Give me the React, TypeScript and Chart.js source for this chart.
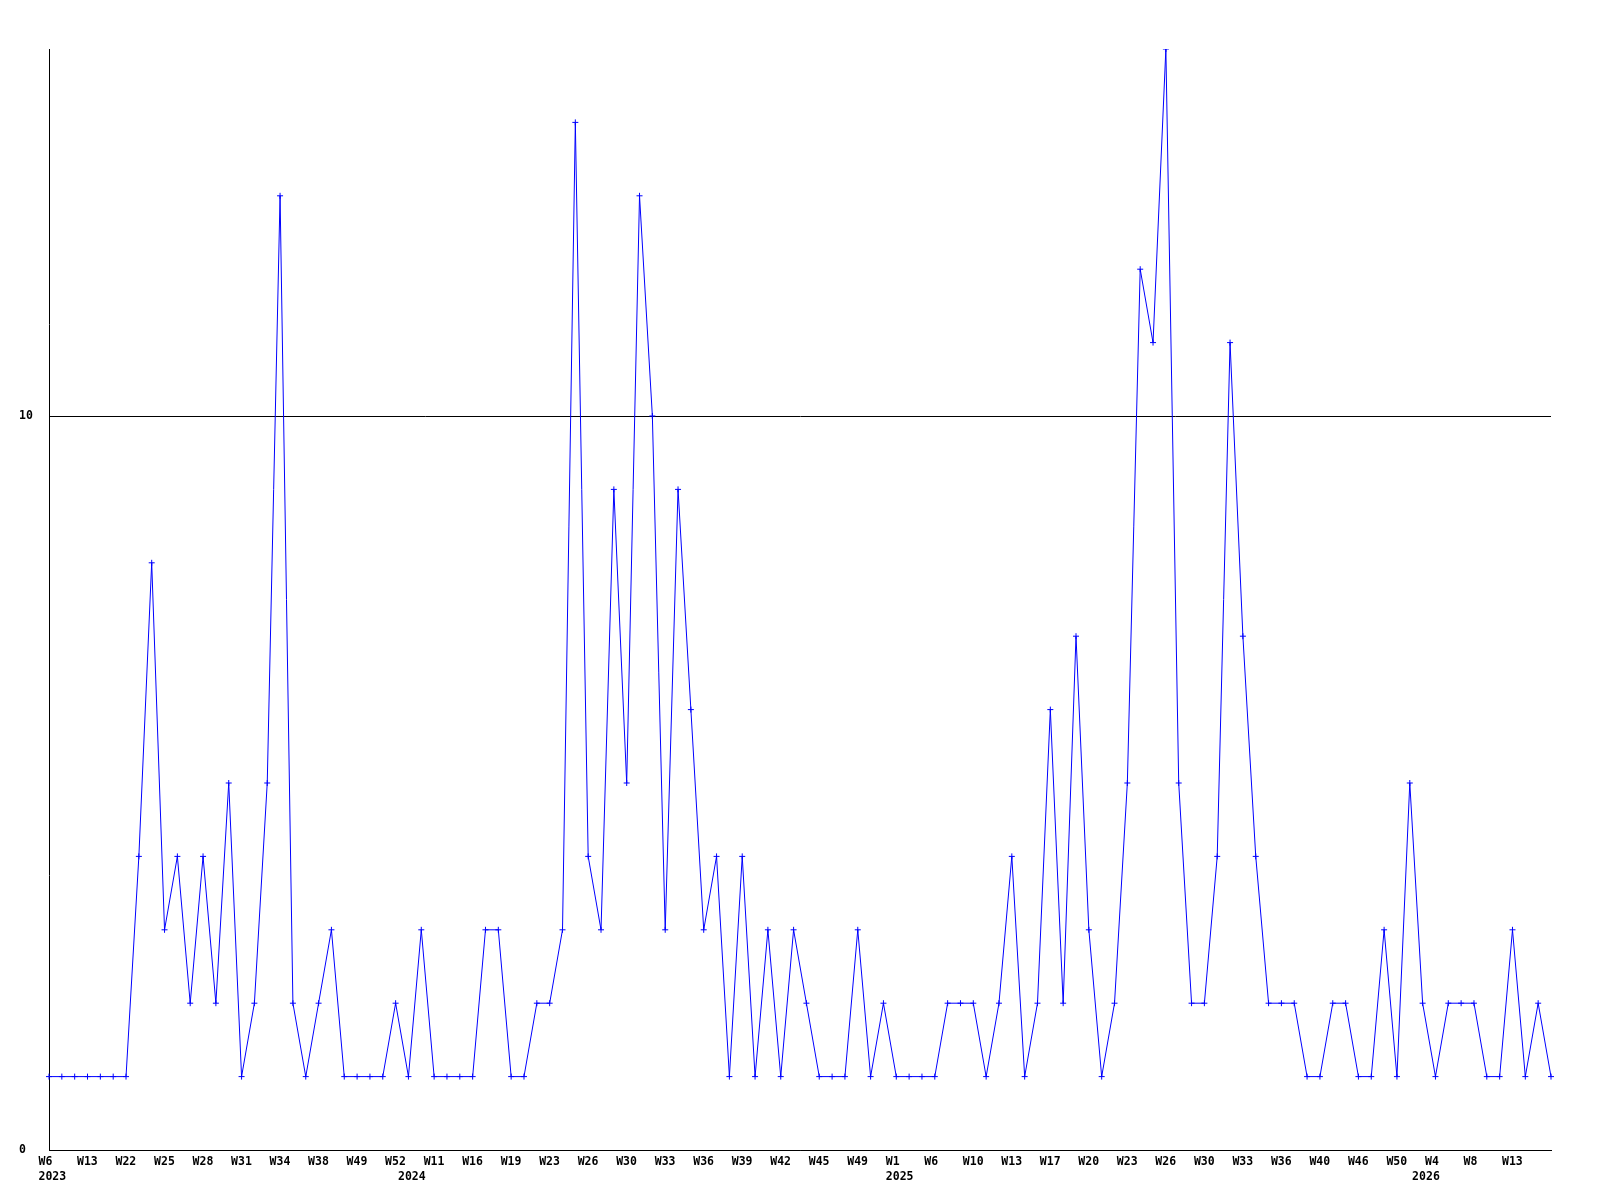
import React, { useEffect, useRef } from "react";
import { Chart, registerables } from "chart.js";

Chart.register(...registerables);

// Weekly counts, one per plotted point
const values: number[] = [
  1, 1, 1, 1, 1, 1, 1, 4, 8, 3,
  4, 2, 4, 2, 5, 1, 2, 5, 13, 2,
  1, 2, 3, 1, 1, 1, 1, 2, 1, 3,
  1, 1, 1, 1, 3, 3, 1, 1, 2, 2,
  3, 14, 4, 3, 9, 5, 13, 10, 3, 9,
  6, 3, 4, 1, 4, 1, 3, 1, 3, 2,
  1, 1, 1, 3, 1, 2, 1, 1, 1, 1,
  2, 2, 2, 1, 2, 4, 1, 2, 6, 2,
  7, 3, 1, 2, 5, 12, 11, 15, 5, 2,
  2, 4, 11, 7, 4, 2, 2, 2, 1, 1,
  2, 2, 1, 1, 3, 1, 5, 2, 1, 2,
  2, 2, 1, 1, 3, 1, 2, 1,
];

// Week labels shown on every third point
const weekTickLabels: string[] = [
  "W6", "W13", "W22", "W25", "W28", "W31", "W34", "W38", "W49", "W52",
  "W11", "W16", "W19", "W23", "W26", "W30", "W33", "W36", "W39", "W42",
  "W45", "W49", "W1", "W6", "W10", "W13", "W17", "W20", "W23", "W26",
  "W30", "W33", "W36", "W40", "W46", "W50", "W4", "W8", "W13",
];
const tickEvery = 3;

// Year captions: the point (first week of the year) they sit under
const yearPointIndex: number[] = [0, 28, 66, 107];
const yearLabels: string[] = ["2023", "2024", "2025", "2026"];

const yTicks: number[] = [0, 10];
const yMax = 15;

const categories: string[] = values.map((_, i) => String(i));

const FONT = { family: "'DejaVu Sans Mono', monospace", size: 11.5, weight: "bold" as const, lineHeight: 1.35 };

export default function App() {
  const ref = useRef<HTMLCanvasElement | null>(null);

  useEffect(() => {
    if (!ref.current) return;
    const chart = new Chart(ref.current, {
      type: "line",
      data: {
        labels: categories,
        datasets: [
          {
            data: values,
            borderColor: "#0000ff",
            backgroundColor: "#0000ff",
            borderWidth: 1,
            tension: 0,
            fill: false,
            pointStyle: "cross",
            pointRadius: 3,
            pointBorderWidth: 1,
            pointBorderColor: "#0000ff",
            pointHoverRadius: 3,
          },
        ],
      },
      options: {
        responsive: false,
        animation: false,
        devicePixelRatio: 1,
        layout: { padding: { left: 19, top: 49, right: 49, bottom: 0 } },
        plugins: { legend: { display: false }, tooltip: { enabled: false } },
        scales: {
          x: {
            type: "category",
            offset: false,
            grid: { display: false, drawTicks: false },
            border: { display: true, color: "#000", width: 1 },
            ticks: {
              autoSkip: false,
              maxRotation: 0,
              minRotation: 0,
              align: "start",
              labelOffset: -10.5,
              padding: 4,
              color: "#000",
              font: FONT,
              callback: (_v: any, i: number) => {
                let w = "";
                if (i % tickEvery === 0) {
                  const k = i / tickEvery;
                  w = weekTickLabels[k] ?? "";
                }
                const y = yearPointIndex.indexOf(i);
                return y >= 0 ? [w, yearLabels[y]] : w;
              },
            },
            afterFit: (s: any) => {
              s.height = 50;
            },
          },
          y: {
            min: 0,
            max: yMax,
            grid: { display: true, color: "#000", lineWidth: 1, drawTicks: false },
            border: { display: true, color: "#000", width: 1 },
            afterBuildTicks: (s: any) => {
              s.ticks = yTicks.map((v) => ({ value: v }));
            },
            ticks: {
              crossAlign: "far",
              color: "#000",
              font: FONT,
              padding: 4,
            },
            afterFit: (s: any) => {
              s.width = 30;
            },
          },
        },
      },
    });
    return () => chart.destroy();
  }, []);

  return (
    <canvas
      ref={ref}
      width={1600}
      height={1200}
      style={{ position: "absolute", left: 0, top: 0, width: 1600, height: 1200, display: "block" }}
    />
  );
}
